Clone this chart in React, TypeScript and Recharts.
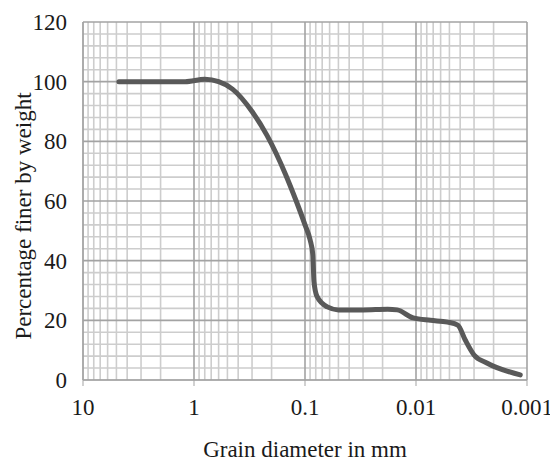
import { LineChart, Line, XAxis, YAxis, ReferenceLine, Label } from 'recharts';

// grain size distribution
const diameters = [
  4.75, 2.0, 1.2, 0.8, 0.6, 0.45, 0.3, 0.22, 0.15, 0.12, 0.1, 0.09, 0.085, 0.083, 0.078, 0.063,
  0.05, 0.03, 0.018, 0.0148, 0.0106, 0.0074, 0.0052, 0.0042, 0.0036, 0.003, 0.0023, 0.00115,
];
const percentFiner = [
  100, 100, 100, 100.8, 100, 97.5, 90, 82, 69, 60, 52, 47, 42, 33, 28, 24.5,
  23.5, 23.5, 23.7, 23.5, 20.8, 20, 19.4, 18.4, 13.4, 8.4, 5.7, 1.7,
];

const xTicks = [10, 1, 0.1, 0.01, 0.001];
const yTicks = [0, 20, 40, 60, 80, 100, 120];
const decadeStarts = [0.001, 0.01, 0.1, 1];
const mantissas = [2, 3, 4, 5, 6, 7, 8, 9];
const yMinor = [4, 8, 12, 16, 24, 28, 32, 36, 44, 48, 52, 56, 64, 68, 72, 76, 84, 88, 92, 96, 104, 108, 112, 116];

const data = diameters.map((d, i) => ({ d, p: percentFiner[i] }));
const xMinor = decadeStarts.flatMap((base) => mantissas.map((m) => +(m * base).toPrecision(3)));

const FONT = 'Liberation Serif';
const MINOR = '#cdcdcd';
const MAJOR = '#a3a3a3';
const TEXT = '#1a1a1a';

export default function App() {
  return (
    <div style={{ width: 550, height: 456, fontFamily: 'Liberation Serif, serif' }}>
      <LineChart width={550} height={456} data={data} margin={{ top: 14, right: 31, bottom: 0, left: 0 }}>
        {yMinor.map((v) => (
          <ReferenceLine key={'ym' + v} y={v} stroke={MINOR} strokeWidth={1.6} />
        ))}
        {xMinor.map((v) => (
          <ReferenceLine key={'xm' + v} x={v} stroke={MINOR} strokeWidth={1.6} />
        ))}
        {yTicks.map((v) => (
          <ReferenceLine key={'yM' + v} y={v} stroke={MAJOR} strokeWidth={1.6} />
        ))}
        {xTicks.map((v) => (
          <ReferenceLine key={'xM' + v} x={v} stroke={MAJOR} strokeWidth={1.6} />
        ))}
        <XAxis
          dataKey="d"
          type="number"
          scale="log"
          domain={[0.001, 10]}
          allowDataOverflow
          reversed
          ticks={xTicks}
          tickFormatter={(v) => String(v)}
          height={84}
          tickSize={6}
          tickMargin={13}
          stroke={MAJOR}
          tick={{ fontSize: 23, fill: TEXT, style: { fontFamily: FONT } }}
        >
          <Label
            content={({ viewBox }: any) => (
              <text
                x={viewBox.x + viewBox.width / 2}
                y={viewBox.y + 77}
                textAnchor="middle"
                fill={TEXT}
                style={{ fontFamily: FONT, fontSize: 23 }}
              >
                Grain diameter in mm
              </text>
            )}
          />
        </XAxis>
        <YAxis
          type="number"
          domain={[0, 120]}
          ticks={yTicks}
          width={75}
          tickLine={false}
          tickMargin={10}
          stroke={MAJOR}
          tick={{ fontSize: 23, fill: TEXT, style: { fontFamily: FONT } }}
        >
          <Label
            content={({ viewBox }: any) => {
              const cx = 23;
              const cy = viewBox.y + viewBox.height / 2 + 15;
              return (
                <text
                  x={cx}
                  y={cy}
                  transform={`rotate(-90, ${cx}, ${cy})`}
                  textAnchor="middle"
                  fill={TEXT}
                  style={{ fontFamily: FONT, fontSize: 23 }}
                >
                  Percentage finer by weight
                </text>
              );
            }}
          />
        </YAxis>
        <Line
          type="monotone"
          dataKey="p"
          stroke="#595959"
          strokeWidth={5}
          strokeLinecap="round"
          strokeLinejoin="round"
          dot={false}
          activeDot={false}
          isAnimationActive={false}
        />
      </LineChart>
    </div>
  );
}
